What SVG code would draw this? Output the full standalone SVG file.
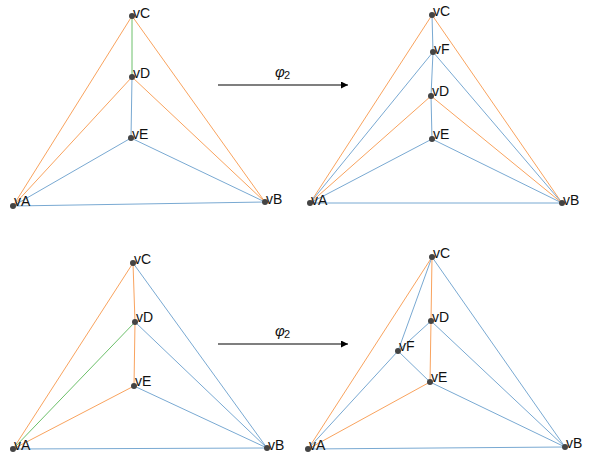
<svg xmlns="http://www.w3.org/2000/svg" width="595" height="469" viewBox="0 0 595 469">
<defs>
<marker id="ah" viewBox="0 0 10 10" refX="10" refY="5" markerWidth="7" markerHeight="7" markerUnits="userSpaceOnUse" orient="auto"><path d="M0,0 L10,5 L0,10 z" fill="#000"/></marker>
</defs>
<style>
.o{stroke:#f9a35e;stroke-width:1;fill:none}
.b{stroke:#79a9d2;stroke-width:1;fill:none}
.g{stroke:#6cc06a;stroke-width:1;fill:none}
.dot{fill:#444}
.lbl{font-family:"Liberation Sans",Arial,sans-serif;font-size:14px;fill:#111}
.phi{font-family:"Liberation Sans",Arial,sans-serif;font-size:15px;font-style:italic;fill:#111}
.sub{font-family:"Liberation Sans",Arial,sans-serif;font-size:11px;fill:#111}
.arr{stroke:#000;stroke-width:1.2;fill:none}
</style>
<rect width="595" height="469" fill="#fff"/>
<g id="connectors">
<!-- panel 1 -->
<line class="g" x1="132" y1="16" x2="132" y2="77"/>
<line class="o" x1="132" y1="16" x2="13" y2="206"/>
<line class="o" x1="132" y1="16" x2="265" y2="202"/>
<line class="o" x1="132" y1="77" x2="13" y2="206"/>
<line class="o" x1="132" y1="77" x2="265" y2="202"/>
<line class="b" x1="132" y1="77" x2="131" y2="138"/>
<line class="b" x1="131" y1="138" x2="13" y2="206"/>
<line class="b" x1="131" y1="138" x2="265" y2="202"/>
<line class="b" x1="13" y1="206" x2="265" y2="202"/>
<!-- panel 2 -->
<line class="b" x1="432" y1="15" x2="433" y2="52"/>
<line class="o" x1="432" y1="15" x2="310" y2="203"/>
<line class="o" x1="432" y1="15" x2="562" y2="203"/>
<line class="b" x1="433" y1="52" x2="310" y2="203"/>
<line class="b" x1="433" y1="52" x2="562" y2="203"/>
<line class="b" x1="433" y1="52" x2="431" y2="96"/>
<line class="o" x1="431" y1="96" x2="310" y2="203"/>
<line class="o" x1="431" y1="96" x2="562" y2="203"/>
<line class="b" x1="431" y1="96" x2="432" y2="139"/>
<line class="b" x1="432" y1="139" x2="310" y2="203"/>
<line class="b" x1="432" y1="139" x2="562" y2="203"/>
<line class="b" x1="310" y1="203" x2="562" y2="203"/>
<!-- panel 3 -->
<line class="o" x1="133" y1="263" x2="13" y2="449"/>
<line class="o" x1="133" y1="263" x2="135" y2="322"/>
<line class="b" x1="133" y1="263" x2="267" y2="448"/>
<line class="g" x1="135" y1="322" x2="13" y2="449"/>
<line class="o" x1="135" y1="322" x2="134" y2="386"/>
<line class="b" x1="135" y1="322" x2="267" y2="448"/>
<line class="o" x1="134" y1="386" x2="13" y2="449"/>
<line class="b" x1="134" y1="386" x2="267" y2="448"/>
<line class="b" x1="13" y1="449" x2="267" y2="448"/>
<!-- panel 4 -->
<line class="o" x1="432" y1="257" x2="308" y2="449"/>
<line class="b" x1="432" y1="257" x2="398" y2="351"/>
<line class="o" x1="432" y1="257" x2="431" y2="321"/>
<line class="b" x1="432" y1="257" x2="565" y2="447"/>
<line class="b" x1="431" y1="321" x2="398" y2="351"/>
<line class="o" x1="431" y1="321" x2="430" y2="382"/>
<line class="b" x1="431" y1="321" x2="565" y2="447"/>
<line class="b" x1="398" y1="351" x2="308" y2="449"/>
<line class="b" x1="398" y1="351" x2="430" y2="382"/>
<line class="o" x1="430" y1="382" x2="308" y2="449"/>
<line class="b" x1="430" y1="382" x2="565" y2="447"/>
<line class="b" x1="308" y1="449" x2="565" y2="447"/>
<!-- arrows -->
<line class="arr" x1="218" y1="85" x2="348" y2="85" marker-end="url(#ah)"/>
<line class="arr" x1="218" y1="344" x2="348" y2="344" marker-end="url(#ah)"/>
</g>
<g id="labels">
<text class="phi" x="275" y="77">φ</text><text class="sub" x="284" y="79">2</text>
<text class="phi" x="275" y="336">φ</text><text class="sub" x="284" y="338">2</text>
</g>
<g id="p1-vC"><circle class="dot" cx="132" cy="16" r="3"/><text class="lbl" x="133" y="18">vC</text></g>
<g id="p1-vD"><circle class="dot" cx="132" cy="77" r="3"/><text class="lbl" x="133" y="78">vD</text></g>
<g id="p1-vE"><circle class="dot" cx="131" cy="138" r="3"/><text class="lbl" x="132" y="139">vE</text></g>
<g id="p1-vA"><circle class="dot" cx="13" cy="206" r="3"/><text class="lbl" x="14" y="206">vA</text></g>
<g id="p1-vB"><circle class="dot" cx="265" cy="202" r="3"/><text class="lbl" x="266" y="204">vB</text></g>
<g id="p2-vC"><circle class="dot" cx="432" cy="15" r="3"/><text class="lbl" x="433" y="16">vC</text></g>
<g id="p2-vF"><circle class="dot" cx="433" cy="52" r="3"/><text class="lbl" x="434" y="54">vF</text></g>
<g id="p2-vD"><circle class="dot" cx="431" cy="96" r="3"/><text class="lbl" x="432" y="96">vD</text></g>
<g id="p2-vE"><circle class="dot" cx="432" cy="139" r="3"/><text class="lbl" x="433" y="139">vE</text></g>
<g id="p2-vA"><circle class="dot" cx="310" cy="203" r="3"/><text class="lbl" x="311" y="205">vA</text></g>
<g id="p2-vB"><circle class="dot" cx="562" cy="203" r="3"/><text class="lbl" x="563" y="205">vB</text></g>
<g id="p3-vC"><circle class="dot" cx="133" cy="263" r="3"/><text class="lbl" x="134" y="264">vC</text></g>
<g id="p3-vD"><circle class="dot" cx="135" cy="322" r="3"/><text class="lbl" x="136" y="322">vD</text></g>
<g id="p3-vE"><circle class="dot" cx="134" cy="386" r="3"/><text class="lbl" x="135" y="386">vE</text></g>
<g id="p3-vA"><circle class="dot" cx="13" cy="449" r="3"/><text class="lbl" x="14" y="450">vA</text></g>
<g id="p3-vB"><circle class="dot" cx="267" cy="448" r="3"/><text class="lbl" x="268" y="450">vB</text></g>
<g id="p4-vC"><circle class="dot" cx="432" cy="257" r="3"/><text class="lbl" x="433" y="258">vC</text></g>
<g id="p4-vD"><circle class="dot" cx="431" cy="321" r="3"/><text class="lbl" x="432" y="322">vD</text></g>
<g id="p4-vF"><circle class="dot" cx="398" cy="351" r="3"/><text class="lbl" x="399" y="351">vF</text></g>
<g id="p4-vE"><circle class="dot" cx="430" cy="382" r="3"/><text class="lbl" x="431" y="382">vE</text></g>
<g id="p4-vA"><circle class="dot" cx="308" cy="449" r="3"/><text class="lbl" x="309" y="450">vA</text></g>
<g id="p4-vB"><circle class="dot" cx="565" cy="447" r="3"/><text class="lbl" x="566" y="448">vB</text></g>
</svg>
